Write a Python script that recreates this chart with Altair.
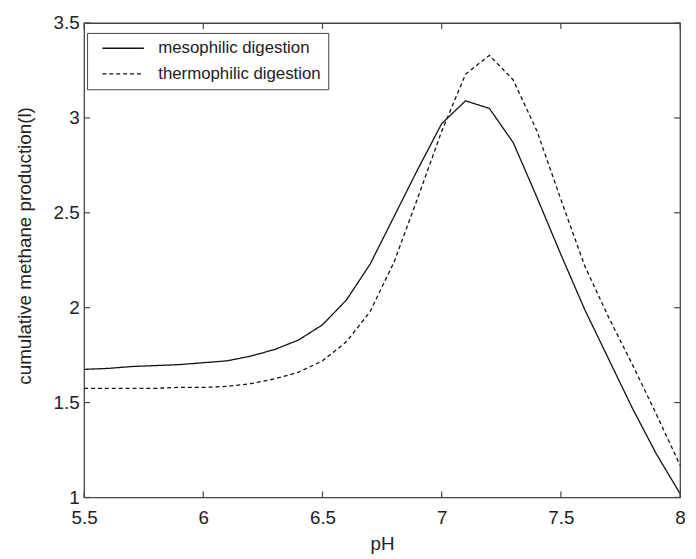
import altair as alt
import pandas as pd

ph = [5.5, 5.6, 5.7, 5.8, 5.9, 6.0, 6.1, 6.2, 6.3, 6.4, 6.5, 6.6, 6.7,
      6.8, 6.9, 7.0, 7.1, 7.2, 7.3, 7.4, 7.5, 7.6, 7.7, 7.8, 7.9, 8.0]
meso = [1.675, 1.68, 1.69, 1.695, 1.70, 1.71, 1.72, 1.745, 1.78, 1.83, 1.91,
        2.04, 2.23, 2.48, 2.73, 2.97, 3.09, 3.05, 2.87, 2.58, 2.28, 1.99,
        1.73, 1.47, 1.23, 1.02]
thermo = [1.575, 1.575, 1.575, 1.575, 1.58, 1.58, 1.585, 1.60, 1.625, 1.66,
          1.72, 1.82, 1.98, 2.24, 2.58, 2.93, 3.23, 3.33, 3.20, 2.93, 2.57,
          2.22, 1.95, 1.70, 1.44, 1.17]
series_names = ["mesophilic digestion", "thermophilic digestion"]
x_ticks = [5.5, 6.0, 6.5, 7.0, 7.5, 8.0]
y_ticks = [1.0, 1.5, 2.0, 2.5, 3.0, 3.5]

W, H = 603, 480
TICK = 6
TEXT = "#222222"
FONT = "Liberation Sans"

rows = []
for p, m, t in zip(ph, meso, thermo):
    rows.append({"pH": p, "value": m, "series": series_names[0]})
    rows.append({"pH": p, "value": t, "series": series_names[1]})
df = pd.DataFrame(rows)
dx = pd.DataFrame({"pH": x_ticks})
dy = pd.DataFrame({"value": y_ticks})

xscale = alt.Scale(domain=[5.5, 8.0], nice=False, zero=False)
yscale = alt.Scale(domain=[1.0, 3.5], nice=False, zero=False)

num_expr = ("datum.value % 1 == 0 ? format(datum.value, 'd') "
            ": format(datum.value, '.1f')")
xaxis = alt.Axis(values=x_ticks, ticks=False, tickSize=0, domain=False,
                 grid=False, labelPadding=11, titlePadding=8,
                 labelFlush=False, labelExpr=num_expr)
yaxis = alt.Axis(values=y_ticks, ticks=False, tickSize=0, domain=False,
                 grid=False, labelPadding=5, labelFlush=False,
                 titleX=-50, titleY=225, labelExpr=num_expr)
XT = "pH"
YT = "cumulative methane production(l)"

lines = alt.Chart(df).mark_line(color="#111111", strokeWidth=1.3).encode(
    x=alt.X("pH:Q", scale=xscale, title=XT, axis=xaxis),
    y=alt.Y("value:Q", scale=yscale, title=YT, axis=yaxis),
    strokeDash=alt.StrokeDash(
        "series:N",
        scale=alt.Scale(domain=series_names, range=[[1, 0], [4, 3]]),
        legend=alt.Legend(title=None, orient="none", legendX=3, legendY=10,
                          symbolType="M-3,0H3", symbolSize=196,
                          symbolStrokeColor="#111111", symbolStrokeWidth=1.3,
                          symbolFillColor="transparent",
                          symbolOffset=21, labelOffset=27, padding=7,
                          rowPadding=8, labelFontSize=17, labelFont=FONT,
                          labelColor=TEXT, strokeColor="#444444",
                          fillColor="white", labelLimit=400),
    ),
)

rule_style = dict(color="#444444", strokeWidth=1.2)
bottom = alt.Chart(dx).mark_rule(**rule_style).encode(
    x=alt.X("pH:Q", scale=xscale, title=XT, axis=xaxis),
    y=alt.value(H), y2=alt.value(H - TICK))
top = alt.Chart(dx).mark_rule(**rule_style).encode(
    x=alt.X("pH:Q", scale=xscale, title=XT, axis=xaxis),
    y=alt.value(0), y2=alt.value(TICK))
left = alt.Chart(dy).mark_rule(**rule_style).encode(
    y=alt.Y("value:Q", scale=yscale, title=YT, axis=yaxis),
    x=alt.value(0), x2=alt.value(TICK))
right = alt.Chart(dy).mark_rule(**rule_style).encode(
    y=alt.Y("value:Q", scale=yscale, title=YT, axis=yaxis),
    x=alt.value(W), x2=alt.value(W - TICK))

chart = alt.layer(lines, bottom, top, left, right).properties(
    width=W, height=H,
    autosize=alt.AutoSizeParams(type="none"),
    padding={"left": 77, "top": 12, "right": 8, "bottom": 55},
).configure_view(
    stroke="#444444", strokeWidth=1.3
).configure_axis(
    labelFont=FONT, titleFont=FONT, labelFontSize=19, titleFontSize=19,
    labelColor=TEXT, titleColor=TEXT, titleFontWeight="normal"
)

chart.save("out.html", embed_options={"renderer": "svg", "actions": False})
